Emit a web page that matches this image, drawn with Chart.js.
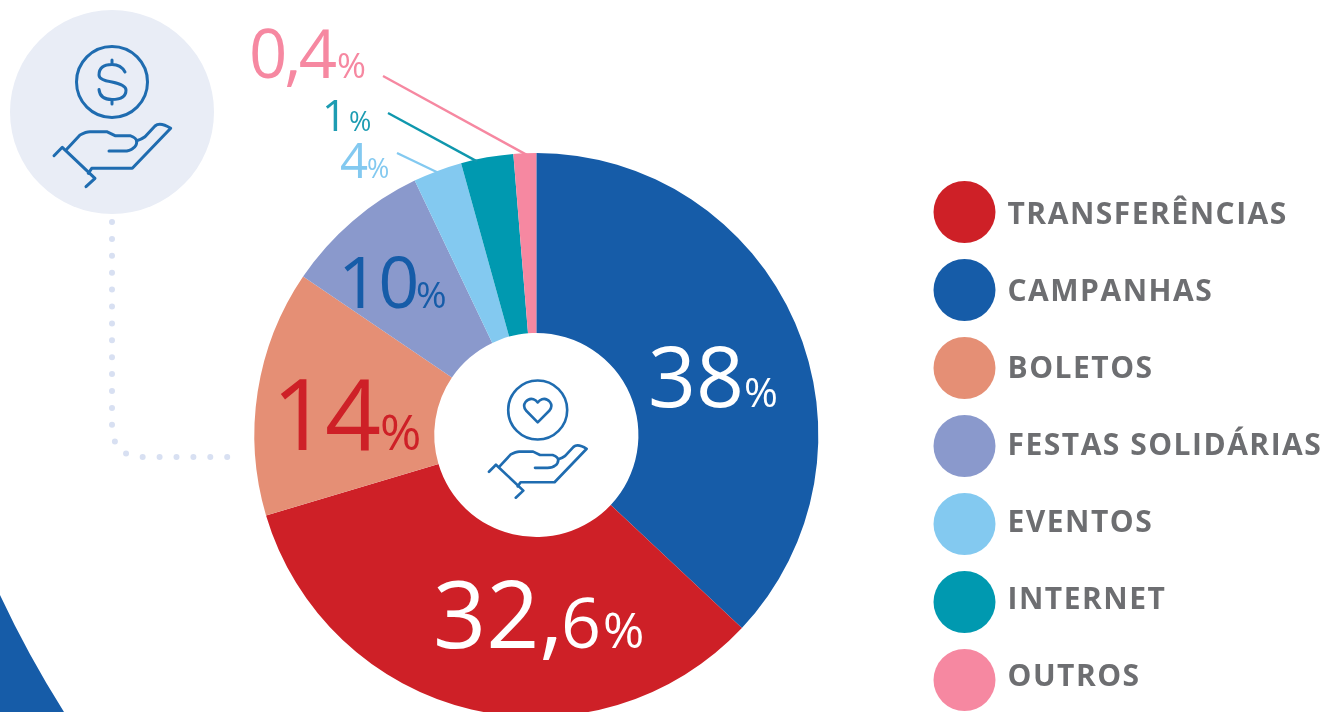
<!DOCTYPE html>
<html><head><meta charset="utf-8">
<style>
html,body{margin:0;padding:0;background:#fff;width:1329px;height:712px;overflow:hidden}
#stage{position:relative;width:1329px;height:712px;overflow:hidden}
#stage svg{position:absolute;left:0;top:0}
#c{position:absolute;left:0;top:0}
</style>
<script src="https://cdn.jsdelivr.net/npm/chart.js@4"></script>
</head><body>
<div id="stage">
<canvas id="c" width="1329" height="730"></canvas>
<svg width="1329" height="712" viewBox="0 0 1329 712" fill="none">
  <defs>
    <g id="hand" stroke="#1f6cb0" stroke-linecap="round" stroke-linejoin="round">
      <path d="M54 155.7L62.3 147.3L95 178.3L86 186.7"/>
      <path d="M66.7 149.3L80 135Q86 131.7 90 131.7L106.7 131.7L115 135.7L130 135.7Q136.7 138 136.7 141.7Q136.7 146 133 148.3Q130 151 124 151L109 151"/>
      <path d="M136.7 140.7Q142 139 145 136.7L155 126Q160 121.7 170.7 128.3L132.3 168.3L91.7 168.3L88.3 173.3"/>
    </g>
  </defs>
  <path d="M0 595Q28 655 64 712L0 712Z" fill="#165ca8"/>
  <circle cx="112" cy="112" r="102" fill="#e9edf6"/>
  <path d="M112 222V425Q112 457 143 457H232" stroke="#d8e0f2" stroke-width="6" stroke-linecap="round" stroke-dasharray="0 16.9"/>
  <circle cx="112" cy="82" r="35.5" stroke="#1f6cb0" stroke-width="3"/>
  <path d="M125 72Q121 64.500 112 64.500Q99 64.500 99 75Q99 80 112 82Q126 85 126 90Q126 99.500 112 99.500Q100 99.500 99 89.500M112 60V64.500M112 99.500V104" stroke="#1f6cb0" stroke-width="3" stroke-linecap="round"/>
  <use href="#hand" stroke-width="3"/>
  <circle cx="537.700" cy="410" r="29.500" stroke="#1f6cb0" stroke-width="2.600"/>
  <path d="M537.700 422.300L526 410.500Q522.500 406 525.500 402Q529 397.800 533.500 399.200Q536 400 537.700 402.500Q539.500 400 542 399.200Q546.500 397.800 550 402Q553 406 549.500 410.500Z" stroke="#1f6cb0" stroke-width="2.600" stroke-linejoin="round"/>
  <use href="#hand" transform="translate(443.8 341.4) scale(.837)" stroke-width="3.2"/>
</svg>
</div>
<script>
const categories = ['CAMPANHAS','TRANSFERÊNCIAS','BOLETOS','FESTAS SOLIDÁRIAS','EVENTOS','INTERNET','OUTROS'];
const legendOrder = ['TRANSFERÊNCIAS','CAMPANHAS','BOLETOS','FESTAS SOLIDÁRIAS','EVENTOS','INTERNET','OUTROS'];
// arc sizes as drawn in the picture (degrees-derived shares)
const sliceShares = [37.0,33.4,14.1,8.4,2.8,3.0,1.3];
// values as printed on the picture
const printedLabels = ['38','32,6','14','10','4','1','0,4'];
const sliceColors = ['#165ca8','#ce2027','#e58f75','#8a99cc','#83c9f0','#0099b0','#f688a1'];

const FONT = '"Open Sans"';
// text, x, baseline, size, letter spacing
const labelStyles = [
  {color:'#fff',parts:[['38',648,407,84,0],['%',744,407,41,0]]},
  {color:'#fff',parts:[['32,',433,648,93,0],['6',561,648,70,0],['%',603,648,50,0]]},
  {color:'#ce2027',parts:[['14',272,450,98,-3],['%',380,450,50,0]]},
  {color:'#165ca8',parts:[['10',338,308,72,-1],['%',416,308,37,0]]},
  {color:'#83c9f0',parts:[['4',340,178,49,0],['%',367,178,27,0]]},
  {color:'#1d9cb2',parts:[['1',322,131,43,0],['%',349,131,27,0]]},
  {color:'#f688a1',parts:[['0,4',249,78,67,-3],['%',337,78,35,0]]}
];
const leaders = [
  {i:4,from:[397,153],f:0.5,color:'#83c9f0'},
  {i:5,from:[388,113],f:0.3,color:'#0f97ad'},
  {i:6,from:[383,76],f:0.6,color:'#f688a1'}
];

const annotate = {
  id:'annotate',
  afterLayout(chart){
    chart.legend.left = 917.5;
    chart.legend.top = 165;
    chart.legend.bottom = 900;
    const ctx = chart.ctx;
    ctx.letterSpacing = '1.5px';
    if(!ctx._nudged){
      ctx._nudged = true;
      const ft = ctx.fillText;
      ctx.fillText = function(t,x,y,...r){
        const row = legendOrder.indexOf(t);
        return row>=0 ? ft.call(this,t,x-3,y+3-row,...r) : ft.call(this,t,x,y,...r);
      };
    }
  },
  afterDatasetsDraw(chart){
    const ctx = chart.ctx, arcs = chart.getDatasetMeta(0).data;
    ctx.save();
    leaders.forEach(l=>{
      const a = arcs[l.i];
      const ang = a.startAngle + l.f*(a.endAngle-a.startAngle);
      ctx.strokeStyle = l.color; ctx.lineWidth = 2.4;
      ctx.beginPath(); ctx.moveTo(l.from[0],l.from[1]);
      ctx.lineTo(a.x+Math.cos(ang)*(a.outerRadius-2), a.y+Math.sin(ang)*(a.outerRadius-2));
      ctx.stroke();
    });
    ctx.textAlign='left'; ctx.textBaseline='alphabetic';
    labelStyles.forEach(s=>{
      ctx.fillStyle=s.color;
      s.parts.forEach(p=>{
        ctx.font = `400 ${p[3]}px ${FONT}`;
        ctx.letterSpacing = p[4]+'px';
        ctx.fillText(p[0],p[1],p[2]);
      });
    });
    ctx.restore();
  }
};

new Chart(document.getElementById('c'),{
  type:'doughnut',
  data:{labels:categories,datasets:[{data:sliceShares,backgroundColor:sliceColors,borderWidth:0}]},
  options:{
    responsive:false,animation:false,cutout:'36.2%',
    events:[],
    layout:{padding:{left:136,top:153,bottom:13,right:0}},
    plugins:{
      tooltip:{enabled:false},
      legend:{
        position:'right',align:'start',
        labels:{
          boxWidth:62,boxHeight:62,padding:16,color:'#6d6e71',
          useBorderRadius:true,borderRadius:31,
          font:{family:FONT,size:30,weight:'700'},
          generateLabels(chart){
            const base = Chart.overrides.doughnut.plugins.legend.labels.generateLabels(chart);
            base.forEach(it=>{it.borderRadius=31;});
            return base;
          },
          sort:(a,b)=>legendOrder.indexOf(a.text)-legendOrder.indexOf(b.text)
        }
      }
    }
  },
  plugins:[annotate]
});
</script>
</body></html>
